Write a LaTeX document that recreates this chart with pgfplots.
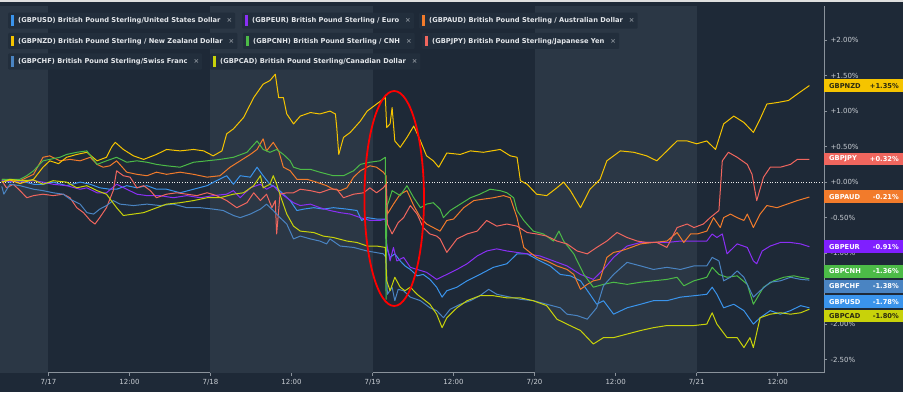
\documentclass[border=0pt]{standalone}
\usepackage{pgfplots}
\pgfplotsset{compat=1.18}
\usepackage{fontspec}
\setmainfont{DejaVu Sans}
\definecolor{bgdark}{HTML}{1E2937}
\definecolor{bglight}{HTML}{2B3745}
\definecolor{chipbg}{HTML}{222E3C}
\definecolor{axisgray}{HTML}{8A929B}
\definecolor{ticktext}{HTML}{C8CDD3}
\definecolor{legtext}{HTML}{E4E7EB}
\definecolor{xgray}{HTML}{8B939C}
\definecolor{cusd}{HTML}{3A94EC}
\definecolor{ceur}{HTML}{8A2FF5}
\definecolor{caud}{HTML}{F27B2B}
\definecolor{cnzd}{HTML}{F5C400}
\definecolor{ccnh}{HTML}{4CBB47}
\definecolor{cjpy}{HTML}{F0665E}
\definecolor{cchf}{HTML}{4A84C2}
\definecolor{ccad}{HTML}{C8D20A}
\definecolor{boxeur}{HTML}{7F1FFF}
\definecolor{darktext}{HTML}{2A2A10}
\newcommand{\chip}[4]{\node[anchor=west, fill=chipbg, inner xsep=3pt, inner ysep=0pt, minimum height=16pt, rounded corners=1pt, font=\fontsize{6.7}{7}\selectfont\bfseries] at (#1,#2) {\textcolor{#3}{\rule[-3pt]{2.5pt}{10.5pt}}\hspace{4.5pt}\textcolor{legtext}{#4}\hspace{6pt}\textcolor{xgray}{×}};}
\newcommand{\valbox}[5]{\fill[#3] (824,#1-6.3) rectangle (903,#1+6.3);
\node[anchor=west, inner sep=0pt, text=#4, font=\fontsize{6.7}{7}\selectfont\bfseries] at (829,#1) {#2};
\node[anchor=east, inner sep=0pt, text=#4, font=\fontsize{6.7}{7}\selectfont\bfseries] at (899,#1) {#5};}
\begin{document}
\begin{tikzpicture}[x=1pt,y=1pt]
\useasboundingbox (0,0) rectangle (903,392);
\fill[bgdark] (0,0) rectangle (903,392);
\begin{axis}[
  at={(0,27)}, anchor=south west,
  scale only axis, width=824pt, height=367pt,
  xmin=-7.17, xmax=114.86, ymin=-2.686, ymax=2.483,
  axis x line*=bottom, axis y line*=right,
  axis line style={draw=axisgray, line width=0.8pt, -},
  xtick={0,12,24,36,48,60,72,84,96,108},
  xticklabels={7/17,12:00,7/18,12:00,7/19,12:00,7/20,12:00,7/21,12:00},
  ytick={-2.5,-2,-1.5,-1,-0.5,0,0.5,1,1.5,2},
  yticklabels={-2.50\%,-2.00\%,{},-1.00\%,-0.50\%,+0.00\%,+0.50\%,+1.00\%,+1.50\%,+2.00\%},
  tick style={draw=axisgray, line width=0.8pt},
  major tick length=3pt, tick align=outside,
  xticklabel style={font=\fontsize{7}{8}\selectfont, text=ticktext},
  yticklabel style={font=\fontsize{7}{8}\selectfont, text=ticktext},
  clip=false,
  every axis plot/.append style={line width=1pt, line join=round, no markers},
]
\fill[bglight] (axis cs:-7.17,-2.686) rectangle (axis cs:0,2.483);
\fill[bglight] (axis cs:24,-2.686) rectangle (axis cs:48,2.483);
\fill[bglight] (axis cs:72,-2.686) rectangle (axis cs:96,2.483);
\draw[color=white!85!gray, line width=0.8pt, dash pattern=on 1pt off 1.6pt] (axis cs:-7.17,0) -- (axis cs:114.86,0);
% GBPUSD
\addplot[cusd] coordinates {(-6.9,0.02) (-5.7,0.00) (-4.2,0.02) (-2.2,-0.03) (-0.8,-0.03) (0.7,0.00) (2.7,-0.05) (4.7,0.00) (6.2,-0.03) (7.6,-0.08) (9.1,-0.10) (10.1,-0.10) (11.6,-0.05) (13.1,-0.08) (14.6,-0.05) (16.0,-0.10) (17.5,-0.10) (19.5,-0.15) (21.5,-0.10) (23.5,-0.05) (24.9,0.02) (26.4,0.09) (27.4,-0.03) (28.4,0.09) (29.9,0.07) (30.9,0.21) (31.8,0.09) (32.8,-0.03) (33.8,-0.08) (34.8,-0.17) (35.8,-0.26) (36.8,-0.40) (37.8,-0.38) (39.3,-0.36) (40.7,-0.38) (42.2,-0.36) (44.2,-0.38) (45.7,-0.40) (46.4,-0.54) (47.2,-0.50) (48.6,-0.52) (49.9,-0.52) (50.1,-0.92) (50.6,-1.06) (51.3,-1.01) (52.1,-1.11) (52.8,-1.18) (53.6,-1.23) (54.6,-1.32) (55.5,-1.30) (56.5,-1.37) (57.5,-1.48) (58.3,-1.62) (59.0,-1.53) (60.5,-1.48) (62.0,-1.39) (63.9,-1.30) (65.9,-1.20) (67.9,-1.15) (69.4,-1.01) (70.9,-1.01) (72.8,-1.11) (74.3,-1.18) (75.8,-1.30) (77.3,-1.32) (78.8,-1.39) (80.2,-1.58) (81.2,-1.72) (82.2,-1.67) (83.7,-1.86) (85.7,-1.77) (87.7,-1.72) (89.6,-1.67) (91.6,-1.67) (93.6,-1.62) (95.6,-1.60) (97.5,-1.58) (98.3,-1.48) (99.0,-1.58) (100.0,-1.77) (101.5,-1.72) (103.0,-1.81) (104.4,-2.00) (105.4,-1.91) (106.9,-1.81) (108.4,-1.86) (109.9,-1.81) (111.4,-1.74) (112.7,-1.77)};
% GBPEUR
\addplot[ceur] coordinates {(-6.9,0.02) (-4.2,0.00) (-2.2,0.02) (-0.8,0.00) (0.7,-0.03) (2.7,-0.05) (4.7,-0.10) (5.7,-0.08) (7.2,-0.15) (8.6,-0.15) (10.1,-0.03) (11.6,-0.10) (13.1,-0.17) (14.6,-0.19) (16.5,-0.19) (18.5,-0.22) (20.5,-0.19) (22.5,-0.22) (24.4,-0.19) (26.4,-0.17) (27.4,-0.12) (28.4,-0.22) (29.9,-0.08) (31.4,-0.03) (32.3,-0.10) (33.3,-0.05) (34.3,-0.15) (35.3,-0.22) (36.3,-0.29) (37.3,-0.33) (38.8,-0.31) (40.2,-0.36) (41.7,-0.40) (43.2,-0.43) (44.7,-0.45) (46.2,-0.50) (47.6,-0.54) (49.1,-0.54) (49.9,-0.52) (50.1,-0.87) (50.6,-1.11) (51.1,-0.92) (51.6,-1.11) (52.6,-1.06) (53.6,-1.20) (54.6,-1.23) (56.0,-1.27) (57.5,-1.37) (59.0,-1.30) (60.5,-1.23) (62.0,-1.15) (63.5,-1.04) (64.9,-0.97) (66.4,-0.94) (67.9,-0.97) (69.4,-0.99) (70.9,-1.01) (72.8,-1.04) (74.8,-1.11) (76.8,-1.18) (78.8,-1.30) (80.7,-1.37) (82.2,-1.23) (83.7,-1.06) (85.7,-0.90) (87.7,-0.85) (89.6,-0.85) (91.6,-0.85) (93.6,-0.83) (95.6,-0.83) (97.5,-0.83) (98.3,-0.73) (99.0,-0.78) (99.8,-0.73) (100.5,-1.01) (102.0,-0.87) (103.5,-0.92) (104.4,-1.11) (104.9,-1.15) (105.7,-0.97) (106.9,-0.90) (108.4,-0.85) (109.9,-0.85) (111.4,-0.87) (112.7,-0.91)};
% GBPAUD
\addplot[caud] coordinates {(-6.9,0.04) (-4.2,0.02) (-2.2,0.11) (-0.8,0.35) (0.2,0.37) (1.7,0.30) (3.2,0.32) (4.7,0.30) (6.2,0.35) (7.2,0.25) (8.1,0.21) (9.1,0.23) (10.1,0.30) (11.6,0.14) (13.1,0.11) (14.6,0.09) (16.0,0.14) (17.5,0.11) (19.5,0.14) (21.5,0.11) (23.5,0.07) (25.4,0.09) (26.9,0.21) (28.4,0.30) (29.9,0.39) (30.9,0.46) (31.8,0.61) (32.3,0.44) (33.3,0.56) (34.1,0.44) (34.8,0.21) (35.8,0.16) (36.8,0.04) (38.3,0.04) (39.7,0.00) (41.2,-0.05) (42.2,-0.10) (43.2,-0.12) (44.2,-0.08) (45.2,0.07) (46.2,0.16) (47.6,0.23) (48.6,0.21) (49.6,0.14) (50.0,0.09) (50.2,-0.45) (51.1,-0.31) (52.1,-0.17) (53.1,-0.12) (54.1,-0.33) (55.1,-0.50) (56.0,-0.59) (57.0,-0.64) (58.0,-0.69) (59.0,-0.54) (60.0,-0.52) (61.5,-0.36) (63.0,-0.26) (64.4,-0.24) (65.9,-0.22) (67.4,-0.19) (68.4,-0.22) (69.4,-0.50) (70.4,-0.92) (71.3,-0.99) (72.3,-1.06) (73.8,-1.11) (75.3,-1.18) (76.8,-1.23) (77.8,-1.30) (78.8,-1.51) (79.8,-1.44) (80.7,-1.39) (81.7,-1.37) (82.7,-1.06) (83.7,-0.99) (84.7,-0.97) (85.7,-0.94) (87.7,-0.87) (89.6,-0.85) (91.6,-0.83) (93.1,-0.71) (94.1,-0.85) (95.1,-0.73) (96.1,-0.73) (97.5,-0.69) (98.5,-0.50) (99.5,-0.64) (100.0,-0.50) (101.0,-0.45) (102.0,-0.50) (103.0,-0.54) (103.5,-0.45) (104.4,-0.64) (105.4,-0.45) (106.4,-0.33) (107.9,-0.36) (109.4,-0.31) (110.9,-0.26) (112.7,-0.21)};
% GBPNZD
\addplot[cnzd] coordinates {(-6.9,0.00) (-5.7,0.03) (-4.2,-0.02) (-2.2,0.04) (-0.8,0.21) (0.2,0.30) (1.5,0.26) (2.7,0.35) (4.2,0.39) (5.7,0.42) (7.2,0.30) (8.6,0.35) (9.4,0.50) (9.9,0.56) (11.1,0.46) (12.6,0.37) (14.1,0.32) (16.0,0.39) (17.5,0.46) (19.5,0.44) (21.5,0.46) (23.0,0.44) (24.4,0.37) (25.7,0.44) (26.4,0.68) (27.4,0.75) (28.9,0.91) (30.4,1.19) (31.8,1.38) (32.8,1.43) (33.6,1.52) (34.1,1.19) (34.8,1.19) (35.3,0.96) (36.3,0.82) (37.3,0.93) (38.8,0.98) (40.2,0.96) (41.7,1.00) (42.5,0.96) (42.7,0.77) (43.0,0.39) (43.7,0.63) (44.7,0.70) (46.2,0.86) (47.2,1.00) (48.6,1.10) (49.9,1.19) (50.1,0.77) (50.6,0.82) (50.9,1.05) (51.3,0.58) (52.1,0.49) (53.1,0.63) (54.1,0.79) (55.1,0.58) (56.0,0.37) (57.0,0.30) (57.8,0.21) (59.0,0.41) (61.0,0.39) (62.5,0.44) (64.4,0.42) (66.9,0.46) (68.4,0.37) (69.4,0.35) (69.9,0.02) (70.9,-0.03) (72.3,-0.17) (73.8,-0.19) (75.3,-0.08) (76.3,0.00) (77.3,-0.12) (78.8,-0.36) (80.2,-0.10) (81.7,0.04) (82.7,0.30) (84.7,0.44) (86.7,0.42) (88.6,0.37) (90.1,0.30) (91.6,0.44) (93.1,0.58) (94.6,0.58) (96.0,0.54) (97.5,0.58) (98.8,0.46) (100.0,0.82) (101.5,0.93) (103.0,0.84) (104.4,0.70) (105.4,0.89) (106.4,1.10) (107.9,1.12) (109.6,1.15) (110.9,1.24) (112.7,1.36)};
% GBPCNH
\addplot[ccnh] coordinates {(-6.9,0.04) (-4.2,0.04) (-3.2,0.09) (-2.2,0.16) (-0.8,0.30) (0.2,0.32) (1.7,0.35) (2.7,0.39) (4.2,0.42) (5.7,0.44) (7.2,0.25) (8.6,0.30) (10.1,0.35) (11.6,0.28) (13.1,0.30) (14.6,0.28) (16.0,0.25) (17.5,0.23) (19.5,0.21) (21.5,0.28) (23.5,0.30) (25.4,0.32) (27.4,0.35) (29.4,0.42) (30.9,0.58) (31.8,0.46) (32.8,0.42) (33.8,0.46) (34.8,0.39) (35.8,0.30) (36.3,0.21) (37.3,0.18) (38.8,0.18) (40.2,0.14) (42.2,0.09) (43.7,0.09) (45.2,0.16) (46.2,0.25) (47.6,0.28) (49.1,0.30) (49.9,0.35) (50.0,-1.65) (50.1,-0.36) (50.9,-0.12) (52.1,-0.19) (53.1,-0.05) (54.1,-0.22) (55.1,-0.36) (56.0,-0.31) (57.0,-0.29) (58.0,-0.38) (58.5,-0.50) (59.5,-0.40) (61.0,-0.31) (62.5,-0.22) (63.9,-0.17) (65.4,-0.10) (66.9,-0.12) (67.9,-0.15) (68.9,-0.22) (69.4,-0.40) (70.4,-0.54) (71.8,-0.69) (73.3,-0.73) (74.8,-0.83) (75.6,-0.69) (76.3,-0.83) (77.8,-1.01) (79.3,-1.30) (80.7,-1.48) (82.2,-1.44) (83.7,-1.41) (85.7,-1.44) (87.7,-1.41) (89.6,-1.39) (91.6,-1.37) (93.1,-1.34) (94.1,-1.46) (95.6,-1.39) (97.5,-1.34) (98.3,-1.20) (99.3,-1.30) (100.5,-1.34) (102.0,-1.32) (103.5,-1.44) (104.4,-1.72) (105.9,-1.48) (107.4,-1.39) (108.9,-1.34) (110.4,-1.32) (111.4,-1.34) (112.7,-1.36)};
% GBPJPY
\addplot[cjpy] coordinates {(-6.9,0.02) (-6.2,-0.08) (-5.2,-0.03) (-4.2,-0.12) (-3.2,-0.22) (-2.2,-0.19) (-0.8,-0.17) (0.7,-0.19) (2.2,-0.17) (3.2,-0.22) (4.2,-0.36) (5.2,-0.43) (6.2,-0.54) (6.9,-0.59) (7.6,-0.50) (8.6,-0.36) (9.6,-0.12) (10.1,0.16) (11.1,0.09) (12.1,0.07) (13.1,-0.08) (14.1,-0.05) (15.1,-0.12) (16.0,-0.22) (17.5,-0.17) (19.0,-0.15) (20.5,-0.17) (22.0,-0.19) (23.5,-0.15) (24.9,-0.19) (26.4,-0.26) (27.9,-0.36) (29.4,-0.29) (30.4,-0.15) (31.4,-0.26) (32.3,-0.17) (33.1,-0.36) (33.6,-0.26) (33.8,-0.73) (34.3,-0.17) (35.3,-0.15) (36.3,-0.15) (37.3,-0.10) (38.8,-0.12) (40.2,-0.15) (41.7,-0.10) (42.7,-0.10) (43.7,-0.22) (45.2,-0.17) (46.7,-0.15) (47.6,-0.08) (48.6,-0.15) (49.6,-0.08) (50.0,-0.03) (50.2,-0.59) (50.9,-0.73) (51.8,-0.57) (52.6,-0.50) (53.6,-0.33) (54.6,-0.45) (55.5,-0.64) (56.5,-0.73) (57.5,-0.76) (58.0,-0.80) (59.0,-0.99) (60.5,-0.80) (62.0,-0.73) (63.5,-0.69) (64.9,-0.54) (66.4,-0.62) (67.9,-0.59) (69.4,-0.62) (70.9,-0.71) (72.3,-0.73) (73.8,-0.76) (75.3,-0.83) (76.8,-0.87) (78.3,-0.97) (79.8,-1.01) (81.2,-0.92) (82.7,-0.83) (84.2,-0.71) (85.7,-0.78) (87.2,-0.83) (88.6,-0.85) (90.1,-0.85) (91.6,-0.92) (93.1,-0.64) (94.6,-0.59) (95.6,-0.64) (97.0,-0.59) (98.0,-0.50) (99.3,-0.40) (99.8,0.30) (100.7,0.42) (102.0,0.35) (103.5,0.25) (104.2,0.11) (104.9,-0.26) (105.9,0.07) (106.9,0.21) (108.4,0.21) (109.9,0.25) (110.9,0.32) (112.7,0.32)};
% GBPCHF
\addplot[cchf] coordinates {(-6.9,-0.06) (-6.6,-0.17) (-5.7,-0.03) (-4.2,-0.05) (-2.2,-0.10) (-0.8,-0.12) (0.7,-0.15) (2.2,-0.17) (3.2,-0.24) (4.7,-0.31) (5.7,-0.43) (6.7,-0.45) (7.6,-0.38) (8.6,-0.33) (9.6,-0.26) (10.6,-0.31) (12.6,-0.33) (14.6,-0.31) (16.5,-0.33) (18.5,-0.31) (20.5,-0.36) (22.5,-0.36) (24.4,-0.38) (25.9,-0.40) (27.4,-0.47) (28.4,-0.50) (29.9,-0.45) (31.4,-0.38) (32.3,-0.31) (33.3,-0.40) (34.3,-0.50) (35.3,-0.59) (36.3,-0.80) (37.3,-0.76) (38.8,-0.80) (40.2,-0.83) (41.2,-0.87) (41.7,-0.80) (43.2,-0.90) (45.2,-0.92) (47.2,-0.97) (49.6,-1.01) (50.0,-1.06) (50.2,-1.58) (50.9,-1.48) (51.3,-1.67) (51.8,-1.51) (52.6,-1.53) (53.6,-1.62) (55.1,-1.67) (56.5,-1.77) (57.5,-1.81) (58.5,-1.91) (59.5,-1.79) (61.0,-1.72) (62.5,-1.67) (63.9,-1.60) (65.2,-1.51) (66.4,-1.58) (68.4,-1.62) (69.9,-1.65) (71.8,-1.67) (73.8,-1.72) (75.8,-1.77) (76.8,-1.86) (78.3,-1.88) (79.8,-1.93) (81.2,-1.77) (82.2,-1.46) (83.7,-1.30) (85.7,-1.13) (87.7,-1.18) (89.6,-1.23) (91.6,-1.20) (93.6,-1.23) (95.6,-1.18) (97.5,-1.18) (98.3,-1.06) (99.3,-1.11) (100.0,-1.39) (101.0,-1.34) (102.0,-1.25) (103.0,-1.34) (104.4,-1.62) (105.4,-1.53) (106.9,-1.41) (108.4,-1.39) (109.9,-1.34) (111.4,-1.37) (112.7,-1.38)};
% GBPCAD
\addplot[ccad] coordinates {(-6.9,0.00) (-5.7,0.04) (-4.2,0.02) (-2.2,0.03) (-0.8,-0.03) (0.7,0.02) (2.7,0.00) (4.2,-0.08) (5.7,-0.05) (7.2,-0.12) (8.6,-0.17) (10.1,-0.36) (11.1,-0.47) (12.6,-0.45) (14.1,-0.43) (15.5,-0.38) (17.5,-0.31) (19.5,-0.29) (21.5,-0.26) (23.5,-0.22) (25.4,-0.22) (27.4,-0.17) (28.9,-0.15) (30.4,-0.05) (31.4,0.09) (31.8,-0.08) (32.8,-0.03) (33.3,0.09) (33.8,-0.03) (34.6,-0.26) (35.3,-0.45) (36.3,-0.62) (37.3,-0.69) (39.3,-0.71) (40.7,-0.76) (42.2,-0.78) (44.2,-0.83) (45.7,-0.85) (47.2,-0.90) (48.6,-0.90) (49.9,-0.92) (50.1,-1.39) (50.6,-1.53) (51.3,-1.34) (52.1,-1.48) (52.8,-1.53) (53.6,-1.48) (54.6,-1.58) (56.5,-1.72) (57.5,-1.86) (58.3,-2.05) (59.0,-1.91) (60.5,-1.77) (62.0,-1.67) (63.9,-1.60) (65.9,-1.60) (67.9,-1.63) (69.9,-1.63) (71.8,-1.67) (73.8,-1.74) (75.3,-1.93) (76.8,-2.00) (78.8,-2.09) (80.7,-2.28) (82.2,-2.19) (83.7,-2.19) (85.7,-2.14) (87.7,-2.09) (89.6,-2.05) (91.6,-2.02) (93.6,-2.02) (95.6,-2.02) (97.5,-2.00) (98.3,-1.84) (99.0,-2.00) (100.5,-2.19) (102.0,-2.19) (103.0,-2.33) (103.9,-2.19) (104.4,-2.33) (105.4,-1.91) (106.9,-1.86) (108.4,-1.84) (109.9,-1.86) (111.4,-1.84) (112.7,-1.79)};
\end{axis}
\fill[white!75!gray] (0,389.5) rectangle (903,392);
\draw[red, line width=1.8pt] (394.2,193.5) ellipse [x radius=29.8, y radius=107.5];
% legend chips
\chip{8}{371.3}{cusd}{(GBPUSD) British Pound Sterling/United States Dollar}
\chip{242}{371.3}{ceur}{(GBPEUR) British Pound Sterling / Euro}
\chip{419}{371.3}{caud}{(GBPAUD) British Pound Sterling / Australian Dollar}
\chip{8}{351}{cnzd}{(GBPNZD) British Pound Sterling / New Zealand Dollar}
\chip{243}{351}{ccnh}{(GBPCNH) British Pound Sterling / CNH}
\chip{422}{351}{cjpy}{(GBPJPY) British Pound Sterling/Japanese Yen}
\chip{8}{330.5}{cchf}{(GBPCHF) British Pound Sterling/Swiss Franc}
\chip{210}{330.5}{ccad}{(GBPCAD) British Pound Sterling/Canadian Dollar}
% end labels
\valbox{306.3}{GBPNZD}{cnzd}{darktext}{+1.35\%}
\valbox{233}{GBPJPY}{cjpy}{white}{+0.32\%}
\valbox{195.3}{GBPAUD}{caud}{white}{-0.21\%}
\valbox{145.3}{GBPEUR}{boxeur}{white}{-0.91\%}
\valbox{120.7}{GBPCNH}{ccnh}{white}{-1.36\%}
\valbox{105.7}{GBPCHF}{cchf}{white}{-1.38\%}
\valbox{90.3}{GBPUSD}{cusd}{white}{-1.78\%}
\valbox{76}{GBPCAD}{ccad}{darktext}{-1.80\%}
\end{tikzpicture}
\end{document}
